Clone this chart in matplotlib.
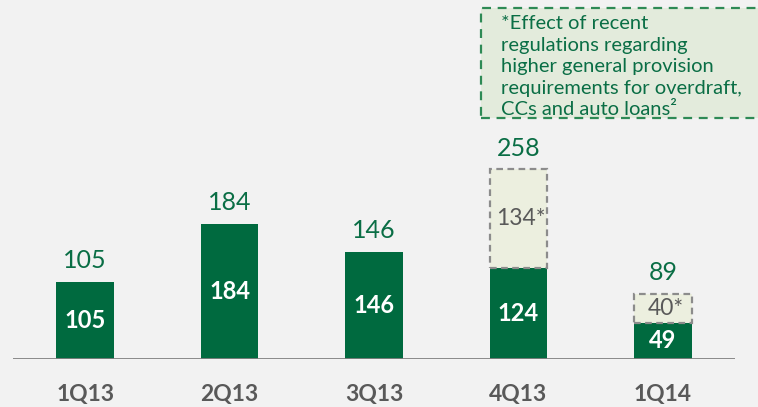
import matplotlib
matplotlib.use("Agg")
import matplotlib.pyplot as plt

# data
quarters = ['1Q13', '2Q13', '3Q13', '4Q13', '1Q14']
base = [105, 184, 146, 124, 49]
extra = [0, 0, 0, 134, 40]
totals = [105, 184, 146, 258, 89]

GREEN = '#006a3f'
TXT_GREEN = '#0a6e45'
GRAY = '#595959'
BG = '#f2f2f2'

plt.rcParams['font.family'] = ['Lato', 'DejaVu Sans']

fig = plt.figure(figsize=(7.58, 4.07), dpi=100, facecolor=BG)
ax = fig.add_axes([13 / 758, 48 / 407, 722 / 758, 359 / 407])
ax.set_facecolor(BG)
ax.set_xlim(-0.5, 4.5)
ax.set_ylim(0, 359 / 0.735)

x = range(len(quarters))
w = 0.4
ax.bar(x, base, width=w, color=GREEN, zorder=2)

for i, (b, e, t) in enumerate(zip(base, extra, totals)):
    if e:
        ax.bar(i, e, bottom=b, width=w, color='#ecefdf', edgecolor='#8c8c8c',
               linestyle=(0, (3, 2)), linewidth=1.6, zorder=2)
        ax.text(i + 0.02, b + e / 2, f'{e}*', ha='center', va='center',
                color=GRAY, fontsize=16.5)
    ax.text(i, b / 2, str(b), ha='center', va='center', color='white',
            fontsize=17, fontweight='bold')
    ax.annotate(str(t), (i, t), xytext=(0, 7), textcoords='offset points',
                ha='center', va='bottom', color=TXT_GREEN, fontsize=18)

ax.axhline(0, color='#808080', linewidth=2, zorder=3)
for s in ax.spines.values():
    s.set_visible(False)
ax.set_yticks([])
ax.set_xticks(list(x))
ax.set_xticklabels(quarters, fontsize=16.5, fontweight='bold', color=GRAY)
ax.tick_params(axis='x', length=0, pad=18)

# note box
box = plt.Rectangle((481 / 758, 1 - 118 / 407), 300 / 758, 110 / 407,
                    transform=fig.transFigure, facecolor='#e3ebdc',
                    edgecolor='#2e8a55', linestyle=(0, (4, 3)), linewidth=1.6)
fig.patches.append(box)
note = ('*Effect of recent\nregulations regarding\nhigher general provision\n'
        'requirements for overdraft,\nCCs and auto loans\u00b2')
fig.text(501 / 758, 1 - 15 / 407, note, ha='left', va='top', color=TXT_GREEN,
         fontsize=14.5, linespacing=1.33)

fig.savefig('out.png', dpi=100, facecolor=BG)
